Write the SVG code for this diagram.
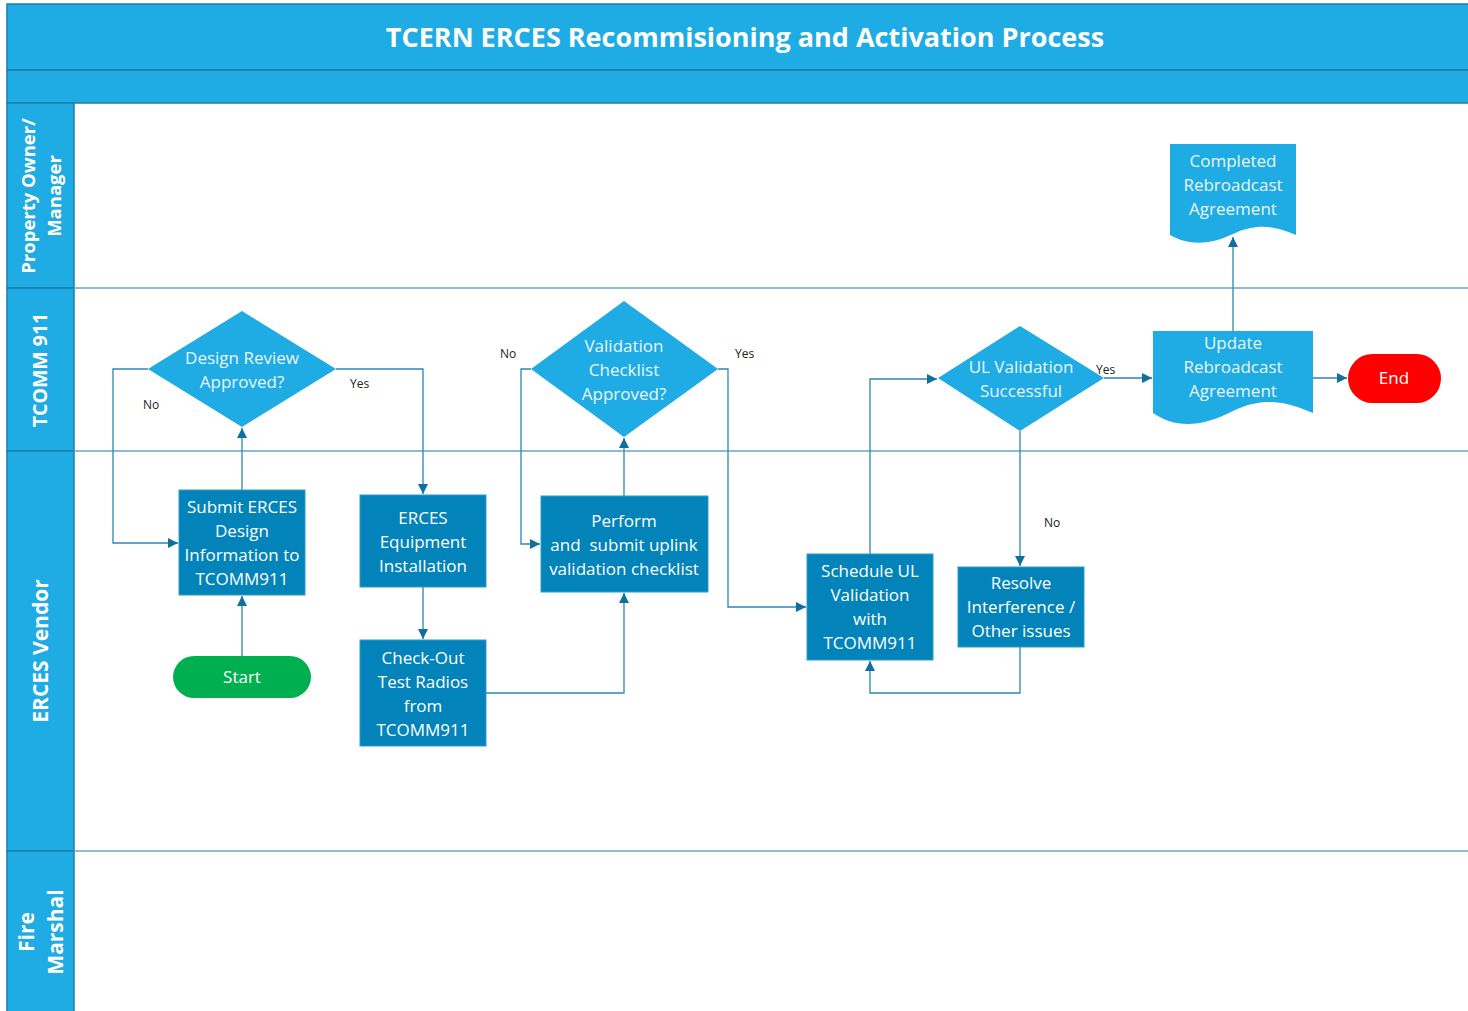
<svg xmlns="http://www.w3.org/2000/svg" width="1468" height="1011" viewBox="0 0 1468 1011">
<style>
.hdr{fill:#1fabe3;stroke:#1b7fa8;stroke-width:1.5}
.lane{stroke:#6aa6c6;stroke-width:1.5}
.hl{font-family:"Open Sans","Noto Sans",sans-serif;font-weight:bold;fill:#ffffff;font-size:21px;text-anchor:middle}
.box{fill:#0283ba;stroke:#2a9ccc;stroke-width:1}
.dia{fill:#1fabe3}
.doc{fill:#1fabe3}
.t{font-family:"Open Sans","Noto Sans",sans-serif;font-size:17px;fill:#ffffff;text-anchor:middle}
.tl{font-family:"Open Sans","Noto Sans",sans-serif;font-size:17px;fill:#eaf6fc;text-anchor:middle}
.c{fill:none;stroke:#2c86b4;stroke-width:1.3}
.lb{font-family:"Open Sans","Noto Sans",sans-serif;font-size:12px;fill:#222222}
</style>
<defs>
<marker id="ah" viewBox="0 0 10 10" refX="10" refY="5" markerWidth="10" markerHeight="10" markerUnits="userSpaceOnUse" orient="auto">
<path d="M0,0 L10,5 L0,10 Z" fill="#0f6f9f"/>
</marker>
</defs>
<rect x="0" y="0" width="1468" height="1011" fill="#ffffff"/>
<g id="title">
<rect class="hdr" x="7" y="4" width="1470" height="66"/>
<rect class="hdr" x="7" y="70" width="1470" height="33"/>
<text x="745" y="47" font-family="'Open Sans','Noto Sans',sans-serif" font-weight="bold" font-size="27" fill="#ffffff" text-anchor="middle">TCERN ERCES Recommisioning and Activation Process</text>
</g>
<g id="lanes">
<rect class="hdr" x="7" y="103" width="67" height="185"/>
<rect class="hdr" x="7" y="288" width="67" height="163"/>
<rect class="hdr" x="7" y="451" width="67" height="400"/>
<rect class="hdr" x="7" y="851" width="67" height="165"/>
<line class="lane" x1="74" y1="288" x2="1468" y2="288"/>
<line class="lane" x1="74" y1="451" x2="1468" y2="451"/>
<line class="lane" x1="74" y1="851" x2="1468" y2="851"/>
<text class="hl" font-size="18.5" transform="translate(35,196) rotate(-90)" style="font-size:18.5px">Property Owner/</text>
<text class="hl" transform="translate(61,196) rotate(-90)" style="font-size:18.5px">Manager</text>
<text class="hl" transform="translate(47,370) rotate(-90)" style="font-size:19.5px">TCOMM 911</text>
<text class="hl" transform="translate(48,651) rotate(-90)">ERCES Vendor</text>
<text class="hl" transform="translate(34,932) rotate(-90)">Fire</text>
<text class="hl" transform="translate(63,932) rotate(-90)">Marshal</text>
</g>
<g id="connectors">
<path class="c" d="M242,656 V596" marker-end="url(#ah)"/>
<path class="c" d="M242,490 V428" marker-end="url(#ah)"/>
<path class="c" d="M148,369 H113 V543 H178" marker-end="url(#ah)"/>
<path class="c" d="M336,369 H423 V494" marker-end="url(#ah)"/>
<path class="c" d="M423,587 V639" marker-end="url(#ah)"/>
<path class="c" d="M486,693 H624 V593" marker-end="url(#ah)"/>
<path class="c" d="M624,496 V438" marker-end="url(#ah)"/>
<path class="c" d="M531,369 H521 V544 H540" marker-end="url(#ah)"/>
<path class="c" d="M718,369 H728 V607 H806" marker-end="url(#ah)"/>
<path class="c" d="M870,554 V379 H937" marker-end="url(#ah)"/>
<path class="c" d="M1020,431 V566" marker-end="url(#ah)"/>
<path class="c" d="M1020,647 V693 H870 V661" marker-end="url(#ah)"/>
<path class="c" d="M1104,378 H1152" marker-end="url(#ah)"/>
<path class="c" d="M1313,378 H1347" marker-end="url(#ah)"/>
<path class="c" d="M1233,331 V237" marker-end="url(#ah)"/>
<text class="lb" x="143" y="409">No</text>
<text class="lb" x="350" y="388">Yes</text>
<text class="lb" x="500" y="358">No</text>
<text class="lb" x="735" y="358">Yes</text>
<text class="lb" x="1044" y="527">No</text>
<text class="lb" x="1096" y="374">Yes</text>
</g>
<g id="start">
<rect x="173" y="656" width="138" height="42" rx="21" fill="#00b050"/>
<text class="t" x="242" y="683">Start</text>
</g>
<g id="submit">
<rect class="box" x="179" y="490" width="126" height="105"/>
<text class="t" x="242" y="513">Submit ERCES</text>
<text class="t" x="242" y="537">Design</text>
<text class="t" x="242" y="561">Information to</text>
<text class="t" x="242" y="585">TCOMM911</text>
</g>
<g id="design-review">
<polygon class="dia" points="242,311 336,369 242,427 148,369"/>
<text class="tl" x="242" y="364">Design Review</text>
<text class="tl" x="242" y="388">Approved?</text>
</g>
<g id="equipment">
<rect class="box" x="360" y="495" width="126" height="92"/>
<text class="t" x="423" y="524">ERCES</text>
<text class="t" x="423" y="548">Equipment</text>
<text class="t" x="423" y="572">Installation</text>
</g>
<g id="checkout">
<rect class="box" x="360" y="640" width="126" height="106"/>
<text class="t" x="423" y="664">Check-Out</text>
<text class="t" x="423" y="688">Test Radios</text>
<text class="t" x="423" y="712">from</text>
<text class="t" x="423" y="736">TCOMM911</text>
</g>
<g id="perform">
<rect class="box" x="541" y="496" width="167" height="96"/>
<text class="t" x="624" y="527">Perform</text>
<text class="t" x="624" y="551" xml:space="preserve">and  submit uplink</text>
<text class="t" x="624" y="575">validation checklist</text>
</g>
<g id="validation-checklist">
<polygon class="dia" points="624,301 718,369 624,437 531,369"/>
<text class="tl" x="624" y="352">Validation</text>
<text class="tl" x="624" y="376">Checklist</text>
<text class="tl" x="624" y="400">Approved?</text>
</g>
<g id="schedule">
<rect class="box" x="807" y="554" width="126" height="106"/>
<text class="t" x="870" y="577">Schedule UL</text>
<text class="t" x="870" y="601">Validation</text>
<text class="t" x="870" y="625">with</text>
<text class="t" x="870" y="649">TCOMM911</text>
</g>
<g id="ul-validation">
<polygon class="dia" points="1020,326 1104,378 1020,431 938,378"/>
<text class="tl" x="1021" y="373">UL Validation</text>
<text class="tl" x="1021" y="397">Successful</text>
</g>
<g id="resolve">
<rect class="box" x="958" y="567" width="126" height="80"/>
<text class="t" x="1021" y="589">Resolve</text>
<text class="t" x="1021" y="613">Interference /</text>
<text class="t" x="1021" y="637">Other issues</text>
</g>
<g id="update">
<path class="doc" d="M1153,331 H1313 V413 C1290,403 1265,395 1233,411 C1200,428 1175,428 1153,413 Z"/>
<text class="tl" x="1233" y="349">Update</text>
<text class="tl" x="1233" y="373">Rebroadcast</text>
<text class="tl" x="1233" y="397">Agreement</text>
</g>
<g id="completed">
<path class="doc" d="M1170,144 H1296 V235 C1278,227 1258,222 1233,234 C1207,246 1188,245 1170,235 Z"/>
<text class="tl" x="1233" y="167">Completed</text>
<text class="tl" x="1233" y="191">Rebroadcast</text>
<text class="tl" x="1233" y="215">Agreement</text>
</g>
<g id="end">
<rect x="1348" y="354" width="93" height="49" rx="24.5" fill="#ff0000"/>
<text class="t" x="1394" y="384">End</text>
</g>
</svg>
